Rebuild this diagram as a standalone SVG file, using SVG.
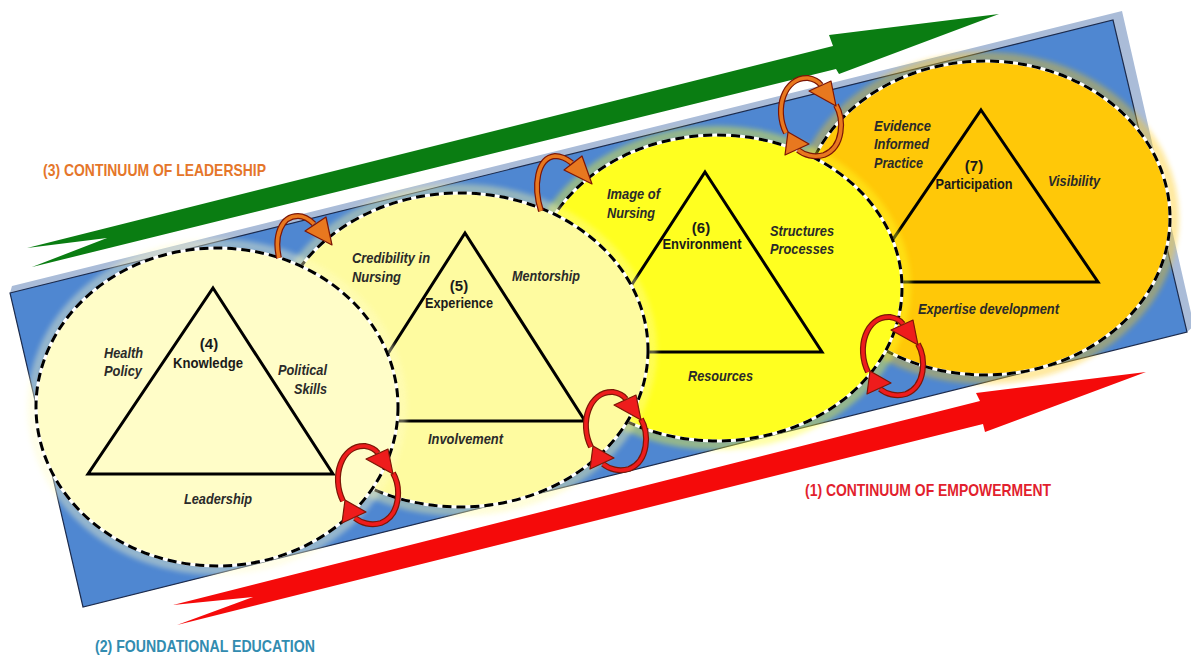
<svg xmlns="http://www.w3.org/2000/svg" width="1191" height="655" viewBox="0 0 1191 655">
<defs>
<style>
.t{font-family:"Liberation Sans",Arial,sans-serif;font-weight:bold;font-size:15px;fill:#1a1a1a}
.it{font-style:italic;fill:#2a2a2a}
.ttl{font-size:17px}
.m{text-anchor:middle}
.e{text-anchor:end}
.ring{fill:none;stroke:#fff;stroke-width:3}
.dash{fill:none;stroke:#000;stroke-width:3;stroke-dasharray:9 5}
.tri{fill:none;stroke:#000;stroke-width:3;stroke-linejoin:miter}
.halo{fill:none;stroke-width:10;opacity:.4;filter:url(#blur)}
.cyo{fill:none;stroke:#7c1606;stroke-width:6}
.cyi{fill:none;stroke:currentColor;stroke-width:3.6}
.cyh{fill:currentColor;stroke:#7c1606;stroke-width:1.2;stroke-linejoin:round}
</style>
<filter id="blur" x="-10%" y="-10%" width="120%" height="120%"><feGaussianBlur stdDeviation="2.5"/></filter>
<g id="cyc">
<path class="cyo" d="M -26,16 C -38,-8 -28,-40 -4,-39 C 2,-38 6,-36 9,-32"/>
<path class="cyo" d="M 24,-12 C 32,2 32,30 12,38 C 2,41 -8,38 -14,33"/>
<path class="cyi" d="M -26,16 C -38,-8 -28,-40 -4,-39 C 2,-38 6,-36 9,-32"/>
<path class="cyi" d="M 24,-12 C 32,2 32,30 12,38 C 2,41 -8,38 -14,33"/>
<polygon class="cyh" points="-3,-26 19,-36 24,-11"/>
<polygon class="cyh" points="-27,38 -24,15 -3,27"/>
</g>
</defs>

<g id="band">
<polygon points="12,286 1122,11 1194,326 1187,332 83,607 10,293" fill="#aabcd8"/>
<polygon points="10,293 1113,20 1187,332 83,607" fill="#4f87d1" stroke="#1c2b4d" stroke-width="1.2"/>
</g>

<g id="leadership-arrow">
<polygon points="27,248 833,46 829,35 999,14 839,74 836,69 32,267 107,238" fill="#0a7d12"/>
<text class="t ttl" x="43" y="176" textLength="223" lengthAdjust="spacingAndGlyphs" style="fill:#e5762a">(3) CONTINUUM OF LEADERSHIP</text>
</g>

<g id="empowerment-arrow">
<polygon points="173,605 980,401 976,393 1146,372 985,432 983,424 177,625 253,597" fill="#f50a0a"/>
<text class="t ttl" x="805" y="496" textLength="246" lengthAdjust="spacingAndGlyphs" style="fill:#e21f2e">(1) CONTINUUM OF EMPOWERMENT</text>
</g>

<g id="education-label">
<text class="t ttl" x="95" y="652" textLength="220" lengthAdjust="spacingAndGlyphs" style="fill:#328cb0">(2) FOUNDATIONAL EDUCATION</text>
</g>

<g id="node7">
<ellipse class="halo" cx="985" cy="218" rx="189" ry="161" stroke="#ffc808"/>
<ellipse cx="985" cy="218" rx="185" ry="157" fill="#ffc808"/>
<ellipse class="ring" cx="985" cy="218" rx="185" ry="157"/>
<ellipse class="dash" cx="985" cy="218" rx="185" ry="157"/>
<polygon class="tri" points="981,110 1098,282 864,282"/>
<text class="t m" x="974" y="171">(7)</text>
<text class="t m" x="974" y="189" textLength="77" lengthAdjust="spacingAndGlyphs">Participation</text>
<text class="t it" x="874" y="131" textLength="57" lengthAdjust="spacingAndGlyphs">Evidence</text>
<text class="t it" x="874" y="149" textLength="55" lengthAdjust="spacingAndGlyphs">Informed</text>
<text class="t it" x="874" y="168" textLength="49" lengthAdjust="spacingAndGlyphs">Practice</text>
<text class="t it" x="1048" y="186" textLength="52" lengthAdjust="spacingAndGlyphs">Visibility</text>
<text class="t it" x="918" y="314" textLength="141" lengthAdjust="spacingAndGlyphs">Expertise development</text>
</g>

<g id="node6">
<ellipse class="halo" cx="717" cy="288" rx="189" ry="157" stroke="#ffff20"/>
<ellipse cx="717" cy="288" rx="185" ry="153" fill="#ffff20"/>
<ellipse class="ring" cx="717" cy="288" rx="185" ry="153"/>
<ellipse class="dash" cx="717" cy="288" rx="185" ry="153"/>
<polygon class="tri" points="705,172 822,352 588,352"/>
<text class="t m" x="701" y="233">(6)</text>
<text class="t m" x="702" y="249" textLength="79" lengthAdjust="spacingAndGlyphs">Environment</text>
<text class="t it" x="607" y="199" textLength="53" lengthAdjust="spacingAndGlyphs">Image of</text>
<text class="t it" x="607" y="218" textLength="48" lengthAdjust="spacingAndGlyphs">Nursing</text>
<text class="t it" x="770" y="236" textLength="64" lengthAdjust="spacingAndGlyphs">Structures</text>
<text class="t it" x="770" y="254" textLength="64" lengthAdjust="spacingAndGlyphs">Processes</text>
<text class="t it" x="688" y="381" textLength="65" lengthAdjust="spacingAndGlyphs">Resources</text>
</g>

<g id="node5">
<ellipse class="halo" cx="460" cy="350" rx="192" ry="161" stroke="#fefba0"/>
<ellipse cx="460" cy="350" rx="188" ry="157" fill="#fefba0"/>
<ellipse class="ring" cx="460" cy="350" rx="188" ry="157"/>
<ellipse class="dash" cx="460" cy="350" rx="188" ry="157"/>
<polygon class="tri" points="465,233 585,421 345,421"/>
<text class="t m" x="459" y="291">(5)</text>
<text class="t m" x="459" y="308" textLength="68" lengthAdjust="spacingAndGlyphs">Experience</text>
<text class="t it" x="352" y="263" textLength="78" lengthAdjust="spacingAndGlyphs">Credibility in</text>
<text class="t it" x="352" y="282" textLength="49" lengthAdjust="spacingAndGlyphs">Nursing</text>
<text class="t it" x="512" y="281" textLength="68" lengthAdjust="spacingAndGlyphs">Mentorship</text>
<text class="t it" x="428" y="444" textLength="75" lengthAdjust="spacingAndGlyphs">Involvement</text>
</g>

<g id="node4">
<ellipse class="halo" cx="217" cy="407" rx="185" ry="163" stroke="#fffdc8"/>
<ellipse cx="217" cy="407" rx="181" ry="159" fill="#fffdc8"/>
<ellipse class="ring" cx="217" cy="407" rx="181" ry="159"/>
<ellipse class="dash" cx="217" cy="407" rx="181" ry="159"/>
<polygon class="tri" points="213,288 333,474 88,474"/>
<text class="t m" x="209" y="349">(4)</text>
<text class="t m" x="208" y="368" textLength="70" lengthAdjust="spacingAndGlyphs">Knowledge</text>
<text class="t it" x="104" y="358" textLength="39" lengthAdjust="spacingAndGlyphs">Health</text>
<text class="t it" x="104" y="376" textLength="38" lengthAdjust="spacingAndGlyphs">Policy</text>
<text class="t it e" x="327" y="375" textLength="49" lengthAdjust="spacingAndGlyphs">Political</text>
<text class="t it e" x="327" y="394" textLength="33" lengthAdjust="spacingAndGlyphs">Skills</text>
<text class="t it m" x="218" y="504" textLength="68" lengthAdjust="spacingAndGlyphs">Leadership</text>
</g>

<g id="connectors">
<g id="orange-arrow-4-5" style="color:#e8781f">
<path class="cyo" d="M 279,258 C 274,236 281,216 298,216 C 304,216 309,219 314,224"/>
<path class="cyi" d="M 279,258 C 274,236 281,216 298,216 C 304,216 309,219 314,224"/>
<polygon class="cyh" points="305,231 326,217 332,245"/>
</g>
<g id="orange-arrow-5-6" style="color:#e8781f">
<path class="cyo" d="M 541,211 C 533,186 537,158 555,156 C 561,156 567,159 572,163"/>
<path class="cyi" d="M 541,211 C 533,186 537,158 555,156 C 561,156 567,159 572,163"/>
<polygon class="cyh" points="564,170 582,156 592,184"/>
</g>
<use href="#cyc" transform="translate(812,117)" style="color:#e8781f"/>
<use href="#cyc" transform="translate(369,485)" style="color:#ee1c1c"/>
<use href="#cyc" transform="translate(617,431)" style="color:#ee1c1c"/>
<use href="#cyc" transform="translate(894,356)" style="color:#ee1c1c"/>
</g>
</svg>
